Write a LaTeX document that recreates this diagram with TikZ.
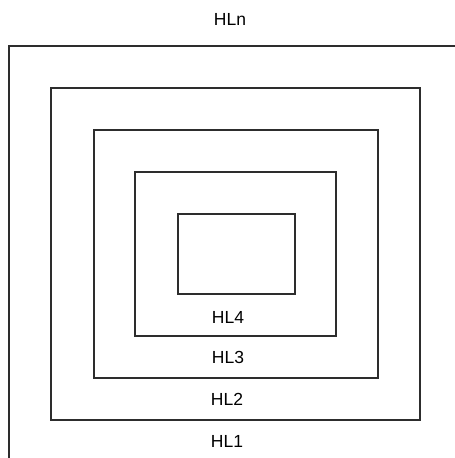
\documentclass[tikz,border=0pt]{standalone}
\usepackage{fontspec}
\setmainfont{Liberation Sans}
\usetikzlibrary{positioning}
\definecolor{edgegray}{RGB}{45,45,45}

\begin{document}
\begin{tikzpicture}[
  x=1pt,y=-1pt,
  layerbox/.style={draw=edgegray,line width=1.6pt,inner sep=0pt,outer sep=0pt,
                   anchor=north west},
  layertxt/.style={font=\fontsize{17.5}{20}\selectfont,text=black}
]

%% ── Page frame (455 x 458) ──
\useasboundingbox (0,0) rectangle (455,458);
\clip (0,0) rectangle (455,458);

%% ── Outer layer, runs off the page on right and bottom ──
\node[layerbox,minimum width=480pt,minimum height=450pt] (HLn) at (9,46) {};

%% ── Nested layers (placed by their top left corners) ──
\node[layerbox,minimum width=369pt,minimum height=332pt] (HL1) at (51,88)  {};
\node[layerbox,minimum width=284pt,minimum height=248pt] (HL2) at (94,130) {};
\node[layerbox,minimum width=201pt,minimum height=164pt] (HL3) at (135,172) {};
\node[layerbox,minimum width=117pt,minimum height=80pt]  (HL4) at (178,214) {};

%% ── Layer labels ──
\node[layertxt] (tHLn) at (230,19)  {HLn};
\node[layertxt] (tHL4) at (228,317) {HL4};
\node[layertxt] (tHL3) at (228,357) {HL3};
\node[layertxt] (tHL2) at (227,399) {HL2};
\node[layertxt] (tHL1) at (227,441) {HL1};

\end{tikzpicture}
\end{document}
